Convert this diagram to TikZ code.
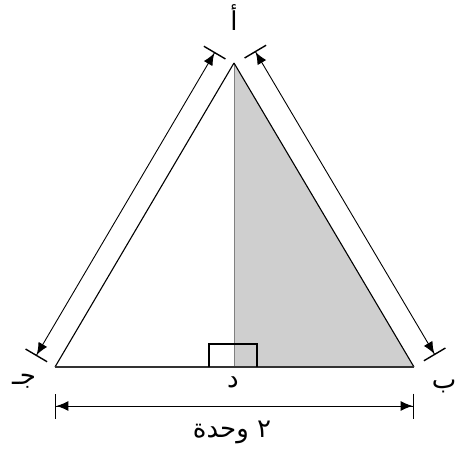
\documentclass[tikz,border=0pt]{standalone}
\usepackage{fontspec}
\newfontfamily\arabicfont[Script=Arabic]{DejaVu Sans}
\TeXXeTstate=1
\usetikzlibrary{arrows.meta}

\begin{document}
\begin{tikzpicture}[x=1pt,y=-1pt,
  dimline/.style={line width=0.9pt,
    {Bar[width=25pt,line width=1.4pt]Latex[length=12pt,width=10pt]}-{Latex[length=12pt,width=10pt]Bar[width=25pt,line width=1.4pt]}},
  lbl/.style={font=\arabicfont\fontsize{26}{30}\selectfont, inner sep=0pt}]
\useasboundingbox (0,0) rectangle (460,457);

% vertices
\coordinate (A) at (234,63);
\coordinate (B) at (414,367);
\coordinate (C) at (55,367);
\coordinate (D) at (234,367);

% shaded half
\fill[gray!38] (A) -- (D) -- (B) -- cycle;
\draw[gray, line width=1pt] (A) -- (D);
\draw[line width=1.1pt] (A) -- (C);
\draw[line width=1.1pt] (A) -- (B);
\draw[line width=1.5pt, black!80] (C) -- (B);

% right angle mark
\coordinate (r1) at (209,367);
\coordinate (r2) at (257,344);
\draw[line width=1.1pt] (r1) |- (r2) -- (r2 |- D);

% dimension lines
\coordinate (ca) at (36,356);
\coordinate (ac) at (215,52);
\draw[dimline] (ca) -- (ac);

\coordinate (ab) at (255,51);
\coordinate (ba) at (435,355);
\draw[dimline] (ab) -- (ba);

\coordinate (cb) at (55,406);
\coordinate (bc) at (414,406);
\draw[dimline] (cb) -- (bc);

% labels
\node[lbl] (la) at (234,18) {\beginR أ\endR};
\node[lbl] (lb) at (444,386) {\beginR ب\endR};
\node[lbl] (lc) at (24,381) {\beginR جـ\endR};
\node[lbl] (ld) at (233,382) {\beginR د\endR};
\node[lbl] (lw) at (232,432) {\beginR ٢ وحدة\endR};
\end{tikzpicture}
\end{document}
